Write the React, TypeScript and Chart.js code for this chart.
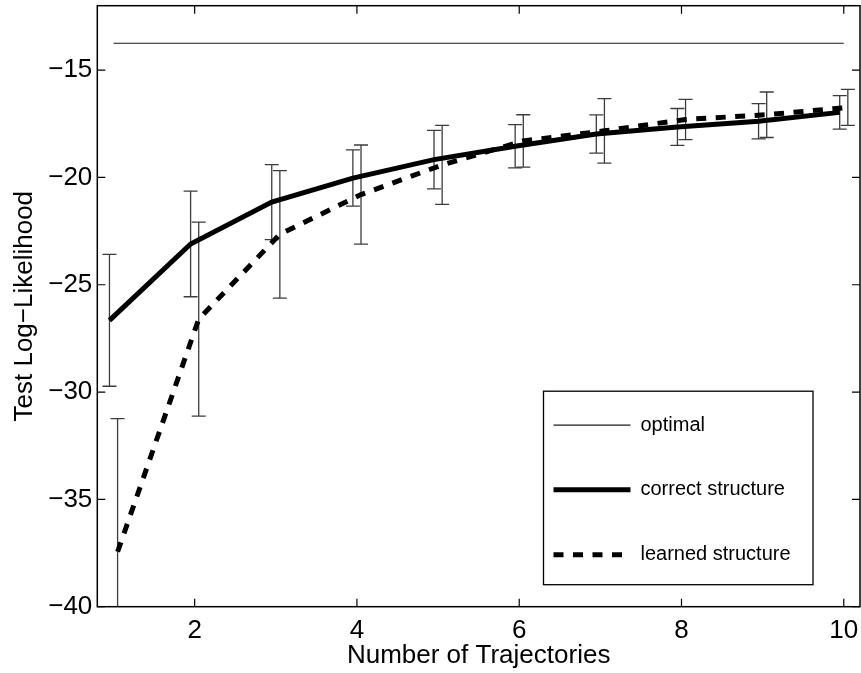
import React, { useEffect, useRef } from "react";
import { Chart, registerables } from "chart.js";

Chart.register(...registerables);

// ---- data ----
const correctX = [0.95, 1.95, 2.95, 3.95, 4.95, 5.95, 6.95, 7.95, 8.95, 9.95];
const correctMean = [-26.66, -23.1, -21.15, -20.03, -19.17, -18.55, -17.98, -17.65, -17.38, -16.97];
const correctErr = [3.07, 2.46, 1.75, 1.31, 1.36, 1.01, 0.89, 0.86, 0.82, 0.78];

const learnedX = [1.05, 2.05, 3.05, 4.05, 5.05, 6.05, 7.05, 8.05, 9.05, 10.05];
const learnedMean = [-37.44, -26.6, -22.65, -20.8, -19.42, -18.3, -17.83, -17.3, -17.08, -16.74];
const learnedErr = [6.2, 4.52, 2.97, 2.31, 1.84, 1.22, 1.5, 0.94, 1.06, 0.84];

const optimalX = [1, 10];
const optimalY = [-13.75, -13.75];

const xTickValues = [2, 4, 6, 8, 10];
const xTickLabels = ["2", "4", "6", "8", "10"];
const yTickValues = [-40, -35, -30, -25, -20, -15];
const yTickLabels = ["\u221240", "\u221235", "\u221230", "\u221225", "\u221220", "\u221215"];

const seriesLabels = ["optimal", "correct structure", "learned structure"];

const FONT = '"Liberation Sans", Arial, Helvetica, sans-serif';

const toPoints = (xs: number[], ys: number[]) => xs.map((x, i) => ({ x, y: ys[i] }));

const errorBarPlugin = {
  id: "errorBars",
  beforeDatasetsDraw(chart: any) {
    const { ctx, chartArea, scales } = chart;
    const xs = scales.x;
    const ys = scales.y;
    ctx.save();
    ctx.beginPath();
    ctx.rect(chartArea.left, chartArea.top, chartArea.right - chartArea.left, chartArea.bottom - chartArea.top);
    ctx.clip();
    ctx.strokeStyle = "#3c3c3c";
    ctx.lineWidth = 1.3;
    const groups: [number[], number[], number[]][] = [
      [correctX, correctMean, correctErr],
      [learnedX, learnedMean, learnedErr],
    ];
    const cap = 7;
    for (const [gx, gm, ge] of groups) {
      for (let i = 0; i < gx.length; i++) {
        const px = xs.getPixelForValue(gx[i]);
        const top = ys.getPixelForValue(gm[i] + ge[i]);
        const bot = ys.getPixelForValue(gm[i] - ge[i]);
        ctx.beginPath();
        ctx.moveTo(px, top);
        ctx.lineTo(px, bot);
        ctx.moveTo(px - cap, top);
        ctx.lineTo(px + cap, top);
        ctx.moveTo(px - cap, bot);
        ctx.lineTo(px + cap, bot);
        ctx.stroke();
      }
    }
    ctx.restore();
  },
};

const framePlugin = {
  id: "frame",
  afterDraw(chart: any) {
    const { ctx, chartArea, scales } = chart;
    const { left, right, top, bottom } = chartArea;
    ctx.save();
    ctx.strokeStyle = "#000";
    ctx.lineWidth = 1.5;
    ctx.strokeRect(left, top, right - left, bottom - top);
    const tl = 8;
    ctx.lineWidth = 1.2;
    ctx.beginPath();
    for (const v of xTickValues) {
      const px = scales.x.getPixelForValue(v);
      ctx.moveTo(px, bottom);
      ctx.lineTo(px, bottom - tl);
      ctx.moveTo(px, top);
      ctx.lineTo(px, top + tl);
    }
    for (const v of yTickValues) {
      const py = scales.y.getPixelForValue(v);
      ctx.moveTo(left, py);
      ctx.lineTo(left + tl, py);
      ctx.moveTo(right, py);
      ctx.lineTo(right - tl, py);
    }
    ctx.stroke();
    ctx.restore();
  },
};

const legendPlugin = {
  id: "boxLegend",
  afterDraw(chart: any) {
    const { ctx, chartArea } = chart;
    const boxRight = chartArea.right - 47;
    const boxBottom = chartArea.bottom - 22;
    const boxW = 269.5;
    const boxH = 193.5;
    const bx = boxRight - boxW;
    const by = boxBottom - boxH;
    ctx.save();
    ctx.fillStyle = "#fff";
    ctx.fillRect(bx, by, boxW, boxH);
    ctx.strokeStyle = "#000";
    ctx.lineWidth = 1.3;
    ctx.strokeRect(bx, by, boxW, boxH);
    const rowY = [34, 98.5, 163.5];
    ctx.font = `20px ${FONT}`;
    ctx.textBaseline = "middle";
    ctx.textAlign = "left";
    chart.data.datasets.forEach((ds: any, i: number) => {
      const y = by + rowY[i];
      ctx.beginPath();
      ctx.strokeStyle = ds.borderColor;
      ctx.lineWidth = ds.borderWidth;
      ctx.setLineDash(ds.borderDash || []);
      ctx.lineCap = "butt";
      ctx.moveTo(bx + 10, y);
      ctx.lineTo(bx + 87, y);
      ctx.stroke();
      ctx.setLineDash([]);
      ctx.fillStyle = "#000";
      ctx.fillText(ds.label, bx + 97, y);
    });
    ctx.restore();
  },
};

export default function App() {
  const canvasRef = useRef<HTMLCanvasElement | null>(null);

  useEffect(() => {
    if (!canvasRef.current) return;
    const chart = new Chart(canvasRef.current, {
      type: "line",
      data: {
        datasets: [
          {
            label: seriesLabels[0],
            data: toPoints(optimalX, optimalY),
            borderColor: "#1a1a1a",
            borderWidth: 1.2,
            pointRadius: 0,
            fill: false,
          },
          {
            label: seriesLabels[1],
            data: toPoints(correctX, correctMean),
            borderColor: "#000",
            borderWidth: 5,
            pointRadius: 0,
            fill: false,
            borderCapStyle: "butt",
          },
          {
            label: seriesLabels[2],
            data: toPoints(learnedX, learnedMean),
            borderColor: "#000",
            borderWidth: 5,
            borderDash: [10, 9.5],
            pointRadius: 0,
            fill: false,
            borderCapStyle: "butt",
          },
        ],
      },
      options: {
        animation: false,
        responsive: true,
        maintainAspectRatio: false,
        devicePixelRatio: 1,
        layout: { padding: { top: 5.7, right: 1, left: 0, bottom: 0 } },
        plugins: {
          legend: { display: false },
          tooltip: { enabled: false },
        },
        elements: { line: { tension: 0 } },
        scales: {
          x: {
            type: "linear",
            min: 0.8,
            max: 10.2,
            grid: { display: false, drawTicks: false },
            border: { display: false },
            afterBuildTicks: (scale: any) => {
              scale.ticks = xTickValues.map((v) => ({ value: v }));
            },
            afterFit: (scale: any) => {
              scale.height = 66.3;
              scale.paddingLeft = 0;
              scale.paddingRight = 0;
            },
            ticks: {
              padding: 9,
              color: "#000",
              font: { family: FONT, size: 26 },
              maxRotation: 0,
              autoSkip: false,
              callback: (v: any) => {
                const i = xTickValues.indexOf(Number(v));
                return i >= 0 ? xTickLabels[i] : "";
              },
            },
            title: {
              display: true,
              text: "Number of Trajectories",
              color: "#000",
              font: { family: FONT, size: 26 },
              padding: { top: 0, bottom: 2 },
            },
          },
          y: {
            type: "linear",
            min: -40,
            max: -12,
            grid: { display: false, drawTicks: false },
            border: { display: false },
            afterBuildTicks: (scale: any) => {
              scale.ticks = yTickValues.map((v) => ({ value: v }));
            },
            afterFit: (scale: any) => {
              scale.width = 97.3;
              scale.paddingTop = 0;
              scale.paddingBottom = 0;
            },
            ticks: {
              padding: 5,
              color: "#000",
              font: { family: FONT, size: 26 },
              autoSkip: false,
              callback: (v: any) => {
                const i = yTickValues.indexOf(Number(v));
                return i >= 0 ? yTickLabels[i] : "";
              },
            },
            title: {
              display: true,
              text: "Test Log\u2212Likelihood",
              color: "#000",
              font: { family: FONT, size: 26 },
              padding: { top: 9, bottom: 0 },
            },
          },
        },
      },
      plugins: [errorBarPlugin, framePlugin, legendPlugin],
    } as any);
    return () => chart.destroy();
  }, []);

  return (
    <div style={{ position: "absolute", left: 0, top: 0, width: 861, height: 673, background: "#fff" }}>
      <canvas ref={canvasRef} />
    </div>
  );
}
